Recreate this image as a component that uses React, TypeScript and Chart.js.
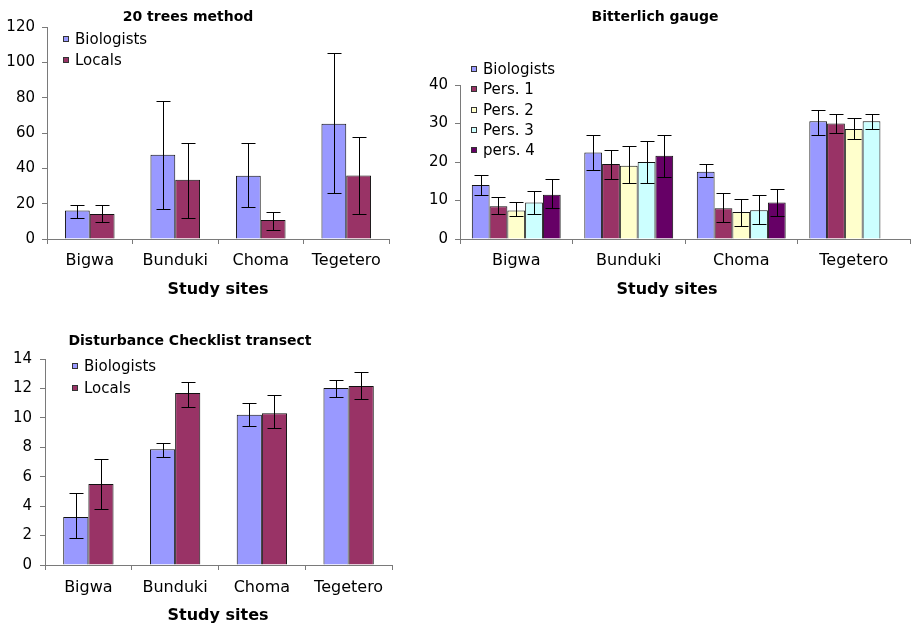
import React, { useEffect, useRef } from "react";
import { Chart, registerables } from "chart.js";

Chart.register(...registerables);

// ---------- data ----------
const sites = ["Bigwa", "Bunduki", "Choma", "Tegetero"];

// 20 trees method
const treesBio = [16.2, 47.7, 35.8, 65.2];
const treesBioLow = [11.9, 17.2, 18.3, 26.1];
const treesBioHigh = [19.4, 78.3, 54.2, 105.5];
const treesLoc = [14.2, 33.6, 10.8, 36.0];
const treesLocLow = [9.6, 11.7, 5.3, 14.2];
const treesLocHigh = [19.4, 54.2, 15.3, 57.6];

// Bitterlich gauge
const bitBio = [14.0, 22.5, 17.5, 30.6];
const bitBioLow = [11.5, 18.0, 16.0, 27.0];
const bitBioHigh = [16.5, 27.0, 19.5, 33.5];
const bitP1 = [8.5, 19.5, 8.0, 30.0];
const bitP1Low = [6.5, 15.5, 4.5, 27.5];
const bitP1High = [11.0, 23.0, 12.0, 32.5];
const bitP2 = [7.4, 19.0, 7.0, 28.6];
const bitP2Low = [6.0, 14.5, 3.5, 26.0];
const bitP2High = [9.5, 24.1, 10.5, 31.5];
const bitP3 = [9.5, 20.0, 7.5, 30.6];
const bitP3Low = [6.5, 14.5, 4.0, 28.6];
const bitP3High = [12.5, 25.5, 11.5, 32.5];
const bitP4 = [11.5, 21.6, 9.5, 0];
const bitP4Low = [8.0, 16.0, 6.0, null];
const bitP4High = [15.5, 27.0, 13.0, null];

// Disturbance checklist transect
const distBio = [3.27, 7.87, 10.21, 12.03];
const distBioLow = [1.82, 7.35, 9.42, 11.41];
const distBioHigh = [4.86, 8.26, 10.98, 12.55];
const distLoc = [5.51, 11.69, 10.32, 12.16];
const distLocLow = [3.79, 10.73, 9.3, 11.28];
const distLocHigh = [7.22, 12.46, 11.53, 13.12];

const treesTicks = { min: 0, max: 120, step: 20 };
const bitTicks = { min: 0, max: 40, step: 10 };
const distTicks = { min: 0, max: 14, step: 2 };

// ---------- styles ----------
const C_BIO = "#9999FF";
const C_P1 = "#993366";
const C_P2 = "#FFFFCC";
const C_P3 = "#CCFFFF";
const C_P4 = "#660066";
const AXIS = "#7a7a7a";
const FONT = "DejaVu Sans";

type Err = { low: (number | null)[]; high: (number | null)[] };

function errorBarPlugin(errs: Err[]) {
  return {
    id: "errbars",
    afterDatasetsDraw(chart: any) {
      const ctx = chart.ctx;
      const y = chart.scales.y;
      ctx.save();
      ctx.strokeStyle = "#000";
      ctx.lineWidth = 1;
      errs.forEach((e, i) => {
        const meta = chart.getDatasetMeta(i);
        meta.data.forEach((bar: any, j: number) => {
          const lo = e.low[j];
          const hi = e.high[j];
          if (lo == null || hi == null) return;
          const x = Math.round(bar.x) + 0.5;
          const y1 = Math.round(y.getPixelForValue(lo)) + 0.5;
          const y2 = Math.round(y.getPixelForValue(hi)) + 0.5;
          const hw = 7;
          ctx.beginPath();
          ctx.moveTo(x, y1);
          ctx.lineTo(x, y2);
          ctx.moveTo(x - hw, y1);
          ctx.lineTo(x + hw, y1);
          ctx.moveTo(x - hw, y2);
          ctx.lineTo(x + hw, y2);
          ctx.stroke();
        });
      });
      ctx.restore();
    },
  };
}

type TextCfg = {
  title: string;
  titleX: number;
  titleY: number;
  axisTitle: string;
  axisX: number;
  axisY: number;
  legendX: number;
  legendY: number;
  legendStep: number;
  legend: { label: string; color: string }[];
};

function textPlugin(cfg: TextCfg) {
  return {
    id: "texts",
    afterDraw(chart: any) {
      const ctx = chart.ctx;
      ctx.save();
      ctx.fillStyle = "#000";
      ctx.textBaseline = "middle";
      ctx.textAlign = "center";
      ctx.font = `bold 14px "${FONT}"`;
      ctx.fillText(cfg.title, cfg.titleX, cfg.titleY);
      ctx.font = `bold 16px "${FONT}"`;
      ctx.fillText(cfg.axisTitle, cfg.axisX, cfg.axisY);
      ctx.textAlign = "left";
      ctx.font = `15px "${FONT}"`;
      cfg.legend.forEach((item, i) => {
        const cy = Math.round(cfg.legendY + i * cfg.legendStep);
        const bx = cfg.legendX;
        ctx.fillStyle = item.color;
        ctx.fillRect(bx, cy - 3, 6, 6);
        ctx.strokeStyle = "#333";
        ctx.lineWidth = 1;
        ctx.strokeRect(bx + 0.5, cy - 2.5, 5, 5);
        ctx.fillStyle = "#000";
        ctx.fillText(item.label, bx + 12, cy + 1);
      });
      ctx.restore();
    },
  };
}

type ChartCfg = {
  width: number;
  height: number;
  datasets: any[];
  errs: Err[];
  ticks: { min: number; max: number; step: number };
  yWidth: number;
  xHeight: number;
  padTop: number;
  padRight: number;
  xPad: number;
  yPad: number;
  catPct: number;
  text: TextCfg;
};

function BarPanel({ cfg, left, top }: { cfg: ChartCfg; left: number; top: number }) {
  const ref = useRef<HTMLCanvasElement | null>(null);
  useEffect(() => {
    if (!ref.current) return;
    const chart = new Chart(ref.current, {
      type: "bar",
      data: {
        labels: sites,
        datasets: cfg.datasets.map((d) => ({
          ...d,
          borderColor: "#111",
          borderWidth: 1,
          categoryPercentage: cfg.catPct,
          barPercentage: 1,
        })),
      },
      options: {
        responsive: false,
        animation: false,
        events: [],
        layout: { padding: { left: 0, right: cfg.padRight, top: cfg.padTop, bottom: 0 } },
        plugins: {
          legend: { display: false },
          title: { display: false },
          tooltip: { enabled: false },
        },
        scales: {
          x: {
            grid: {
              display: true,
              drawOnChartArea: false,
              drawTicks: true,
              tickLength: 5,
              color: AXIS,
              offset: true,
            },
            border: { display: true, color: AXIS },
            ticks: { font: { family: FONT, size: 16 }, color: "#000", padding: cfg.xPad },
            afterFit: (s: any) => {
              s.height = cfg.xHeight;
            },
          },
          y: {
            min: cfg.ticks.min,
            max: cfg.ticks.max,
            grid: {
              display: true,
              drawOnChartArea: false,
              drawTicks: true,
              tickLength: 5,
              color: AXIS,
            },
            border: { display: true, color: AXIS },
            ticks: {
              stepSize: cfg.ticks.step,
              font: { family: FONT, size: 15 },
              color: "#000",
              padding: cfg.yPad,
            },
            afterFit: (s: any) => {
              s.width = cfg.yWidth;
            },
          },
        },
      } as any,
      plugins: [errorBarPlugin(cfg.errs), textPlugin(cfg.text)],
    });
    return () => chart.destroy();
  }, []);
  return (
    <canvas
      ref={ref}
      width={cfg.width}
      height={cfg.height}
      style={{ position: "absolute", left, top, width: cfg.width, height: cfg.height }}
    />
  );
}

const treesCfg: ChartCfg = {
  width: 400,
  height: 310,
  datasets: [
    { label: "Biologists", data: treesBio, backgroundColor: C_BIO },
    { label: "Locals", data: treesLoc, backgroundColor: C_P1 },
  ],
  errs: [
    { low: treesBioLow, high: treesBioHigh },
    { low: treesLocLow, high: treesLocHigh },
  ],
  ticks: treesTicks,
  yWidth: 47,
  xHeight: 71,
  padTop: 27,
  padRight: 11,
  xPad: 7,
  yPad: 7,
  catPct: 0.58,
  text: {
    title: "20 trees method",
    titleX: 188,
    titleY: 17,
    axisTitle: "Study sites",
    axisX: 218,
    axisY: 290,
    legendX: 63,
    legendY: 39,
    legendStep: 21,
    legend: [
      { label: "Biologists", color: C_BIO },
      { label: "Locals", color: C_P1 },
    ],
  },
};

const bitCfg: ChartCfg = {
  width: 512,
  height: 310,
  datasets: [
    { label: "Biologists", data: bitBio, backgroundColor: C_BIO },
    { label: "Pers. 1", data: bitP1, backgroundColor: C_P1 },
    { label: "Pers. 2", data: bitP2, backgroundColor: C_P2 },
    { label: "Pers. 3", data: bitP3, backgroundColor: C_P3 },
    { label: "pers. 4", data: bitP4, backgroundColor: C_P4 },
  ],
  errs: [
    { low: bitBioLow, high: bitBioHigh },
    { low: bitP1Low, high: bitP1High },
    { low: bitP2Low, high: bitP2High },
    { low: bitP3Low, high: bitP3High },
    { low: bitP4Low, high: bitP4High },
  ],
  ticks: bitTicks,
  yWidth: 60,
  xHeight: 71,
  padTop: 85,
  padRight: 2,
  xPad: 7,
  yPad: 7,
  catPct: 0.79,
  text: {
    title: "Bitterlich gauge",
    titleX: 255,
    titleY: 17,
    axisTitle: "Study sites",
    axisX: 267,
    axisY: 290,
    legendX: 71,
    legendY: 69,
    legendStep: 20.3,
    legend: [
      { label: "Biologists", color: C_BIO },
      { label: "Pers. 1", color: C_P1 },
      { label: "Pers. 2", color: C_P2 },
      { label: "Pers. 3", color: C_P3 },
      { label: "pers. 4", color: C_P4 },
    ],
  },
};

const distCfg: ChartCfg = {
  width: 400,
  height: 317,
  datasets: [
    { label: "Biologists", data: distBio, backgroundColor: C_BIO },
    { label: "Locals", data: distLoc, backgroundColor: C_P1 },
  ],
  errs: [
    { low: distBioLow, high: distBioHigh },
    { low: distLocLow, high: distLocHigh },
  ],
  ticks: distTicks,
  yWidth: 45,
  xHeight: 62,
  padTop: 49,
  padRight: 8,
  xPad: 8,
  yPad: 8,
  catPct: 0.58,
  text: {
    title: "Disturbance Checklist transect",
    titleX: 190,
    titleY: 31,
    axisTitle: "Study sites",
    axisX: 218,
    axisY: 306,
    legendX: 72,
    legendY: 56,
    legendStep: 21.7,
    legend: [
      { label: "Biologists", color: C_BIO },
      { label: "Locals", color: C_P1 },
    ],
  },
};

export default function App() {
  return (
    <div
      style={{
        position: "absolute",
        left: 0,
        top: 0,
        width: 912,
        height: 627,
        background: "#fff",
        overflow: "hidden",
      }}
    >
      <BarPanel cfg={treesCfg} left={0} top={0} />
      <BarPanel cfg={bitCfg} left={400} top={0} />
      <BarPanel cfg={distCfg} left={0} top={310} />
    </div>
  );
}
